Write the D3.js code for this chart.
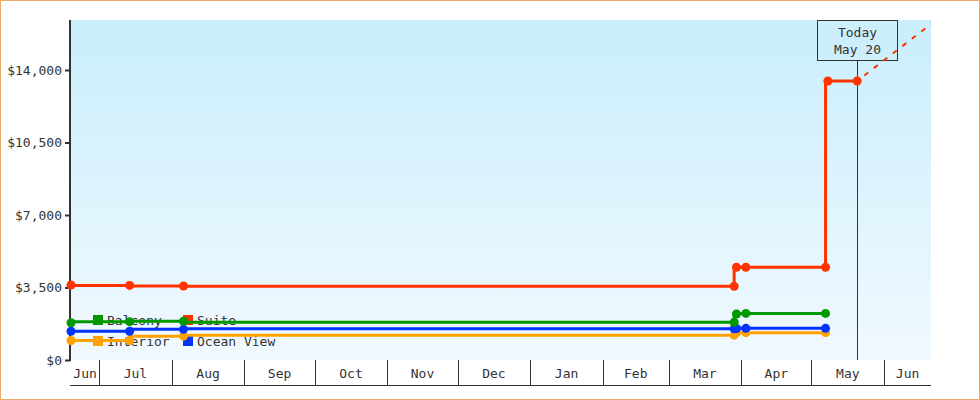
<!DOCTYPE html>
<html>
  <head>
    <!-- Load d3 -->
    <script src="https://d3js.org/d3.v7.min.js"></script>
    <style>
      body { margin: 0; }
      text { font-family: "DejaVu Sans Mono", "Liberation Mono", monospace; font-size: 13px; fill: #333; }
    </style>
  </head>
  <body>
    <script>

      const width = 980;
      const height = 400;

      // price checks (dates) shared by most cabins
      const checkDates = ["2022-06-19", "2022-07-14", "2022-08-06", "2023-03-29", "2023-03-30", "2023-04-03", "2023-05-07"];
      const balcony   = [1800, 1850, 1870, 1820, 2220, 2250, 2250];
      const oceanView = [1390, 1390, 1480, 1510, 1520, 1530, 1530];
      const interior  = [940, 940, 1150, 1200, 1320, 1320, 1320];

      // suite has two more checks, up to today
      const suiteDates = ["2022-06-19", "2022-07-14", "2022-08-06", "2023-03-29", "2023-03-30", "2023-04-03", "2023-05-07", "2023-05-08", "2023-05-20T12:00"];
      const suite      = [3620, 3600, 3570, 3560, 4480, 4480, 4480, 13470, 13470];

      // dashed projection after today
      const projectionDates = ["2023-05-20T12:00", "2023-06-21"];
      const projectionSuite = [13470, 16220];

      const today = "2023-05-20T12:00";
      const todayLabel = ["Today", "May 20"];

      const legendNames = ["Balcony", "Suite", "Interior", "Ocean View"];
      const yTicks = [0, 3500, 7000, 10500, 14000];
      const monthStarts = ["2022-06-01", "2022-07-01", "2022-08-01", "2022-09-01", "2022-10-01", "2022-11-01", "2022-12-01",
                           "2023-01-01", "2023-02-01", "2023-03-01", "2023-04-01", "2023-05-01", "2023-06-01"];
      const monthLabels = ["Jun", "Jul", "Aug", "Sep", "Oct", "Nov", "Dec", "Jan", "Feb", "Mar", "Apr", "May", "Jun"];

      const colors = {
        "Balcony": "#009900",
        "Suite": "#ff3300",
        "Interior": "#ffa200",
        "Ocean View": "#0033ff"
      };

      const parse = d3.isoParse;

      const margin = { top: 20, right: 49, bottom: 40, left: 71 };

      const svg = d3.select("body")
        .append("svg")
        .attr("width", width)
        .attr("height", height);

      const xScale = d3.scaleTime()
        .domain([parse("2022-06-19"), parse("2023-06-21")])
        .range([margin.left, width - margin.right]);

      const yScale = d3.scaleLinear()
        .domain([0, 16414])
        .range([height - margin.bottom, margin.top]);

      // border
      svg.append("rect")
        .attr("x", 0.5).attr("y", 0.5)
        .attr("width", width - 1).attr("height", height - 1)
        .attr("fill", "white")
        .attr("stroke", "#e9aa6b");

      // plot background
      const grad = svg.append("defs").append("linearGradient")
        .attr("id", "bg").attr("x1", 0).attr("y1", 0).attr("x2", 0).attr("y2", 1);
      grad.append("stop").attr("offset", "0%").attr("stop-color", "#c9eefc");
      grad.append("stop").attr("offset", "100%").attr("stop-color", "#f1f9fe");

      svg.append("rect")
        .attr("x", xScale.range()[0])
        .attr("y", yScale.range()[1])
        .attr("width", xScale.range()[1] - xScale.range()[0])
        .attr("height", yScale.range()[0] - yScale.range()[1])
        .attr("fill", "url(#bg)");

      // month band under the plot
      const bandTop = yScale(0);
      const bandBottom = bandTop + 25;
      const [x0, x1] = xScale.domain();

      svg.append("line")
        .attr("x1", xScale.range()[0] - 1).attr("x2", xScale.range()[1])
        .attr("y1", bandBottom + 0.5).attr("y2", bandBottom + 0.5)
        .attr("stroke", "#333");

      const months = monthStarts.map((d, i) => ({ start: parse(d), label: monthLabels[i] }));

      svg.selectAll(".sep")
        .data(months.filter(m => m.start > x0 && m.start < x1))
        .join("line")
        .attr("class", "sep")
        .attr("x1", d => Math.round(xScale(d.start)) + 0.5)
        .attr("x2", d => Math.round(xScale(d.start)) + 0.5)
        .attr("y1", bandTop)
        .attr("y2", bandBottom)
        .attr("stroke", "#333");

      svg.selectAll(".month")
        .data(months)
        .join("text")
        .attr("class", "month")
        .attr("text-anchor", "middle")
        .attr("x", d => {
          const a = d.start < x0 ? x0 : d.start;
          const b = d3.timeMonth.offset(d.start, 1) > x1 ? x1 : d3.timeMonth.offset(d.start, 1);
          return (xScale(a) + xScale(b)) / 2;
        })
        .attr("y", bandTop + 18)
        .text(d => d.label);

      // y axis
      const yAxis = svg.append("g")
        .attr("transform", `translate(${xScale.range()[0] - 1},0)`)
        .call(d3.axisLeft(yScale)
          .tickValues(yTicks)
          .tickSize(5)
          .tickPadding(3)
          .tickFormat(d => "$" + d3.format(",")(d)));
      yAxis.select(".domain").remove();
      yAxis.selectAll("line").attr("stroke", "#333").attr("stroke-width", 2);
      yAxis.selectAll("text").attr("font-family", null).attr("font-size", null);

      svg.append("line")
        .attr("x1", xScale.range()[0] - 1).attr("x2", xScale.range()[0] - 1)
        .attr("y1", yScale.range()[1]).attr("y2", yScale(0) + 1)
        .attr("stroke", "#333").attr("stroke-width", 2);

      // legend (drawn under the lines)
      const legend = svg.append("g")
        .selectAll("g")
        .data(legendNames)
        .join("g")
        .attr("transform", (d, i) => `translate(${93 + (i % 2) * 90},${315 + Math.floor(i / 2) * 21})`);
      legend.append("rect")
        .attr("width", 10).attr("height", 10)
        .attr("fill", d => colors[d]);
      legend.append("text")
        .attr("x", 14).attr("y", 10)
        .text(d => d);

      // today marker
      const tx = xScale(parse(today));
      svg.append("line")
        .attr("x1", Math.round(tx) + 0.5).attr("x2", Math.round(tx) + 0.5)
        .attr("y1", 60).attr("y2", yScale(0))
        .attr("stroke", "#333");
      svg.append("rect")
        .attr("x", Math.round(tx) - 39.5).attr("y", 20.5)
        .attr("width", 80).attr("height", 40)
        .attr("fill", "#cdeffc")
        .attr("stroke", "#333");
      svg.selectAll(".today")
        .data(todayLabel)
        .join("text")
        .attr("class", "today")
        .attr("text-anchor", "middle")
        .attr("x", Math.round(tx) + 0.5)
        .attr("y", (d, i) => 37 + i * 17)
        .text(d => d);

      // series
      const series = [
        { name: "Interior", dates: checkDates, values: interior },
        { name: "Ocean View", dates: checkDates, values: oceanView },
        { name: "Balcony", dates: checkDates, values: balcony },
        { name: "Suite", dates: suiteDates, values: suite }
      ].map(s => ({ name: s.name, points: s.dates.map((d, i) => ({ date: parse(d), value: s.values[i] })) }));

      const line = d3.line()
        .x(d => xScale(d.date))
        .y(d => yScale(d.value))
        .curve(d3.curveStepBefore);

      // projection
      svg.append("path")
        .datum(projectionDates.map((d, i) => ({ date: parse(d), value: projectionSuite[i] })))
        .attr("d", d3.line().x(d => xScale(d.date)).y(d => yScale(d.value)))
        .attr("fill", "none")
        .attr("stroke", colors["Suite"])
        .attr("stroke-width", 2)
        .attr("stroke-dasharray", "5,7")
        .attr("stroke-dashoffset", -9);

      const groups = svg.selectAll(".series")
        .data(series)
        .join("g")
        .attr("class", "series");

      groups.append("path")
        .attr("d", d => line(d.points))
        .attr("fill", "none")
        .attr("stroke", d => colors[d.name])
        .attr("stroke-width", 3);

      groups.selectAll("circle")
        .data(d => d.points.map(p => ({ ...p, name: d.name })))
        .join("circle")
        .attr("cx", d => xScale(d.date))
        .attr("cy", d => yScale(d.value))
        .attr("r", 4.5)
        .attr("fill", d => colors[d.name]);

    </script>
  </body>
</html>
